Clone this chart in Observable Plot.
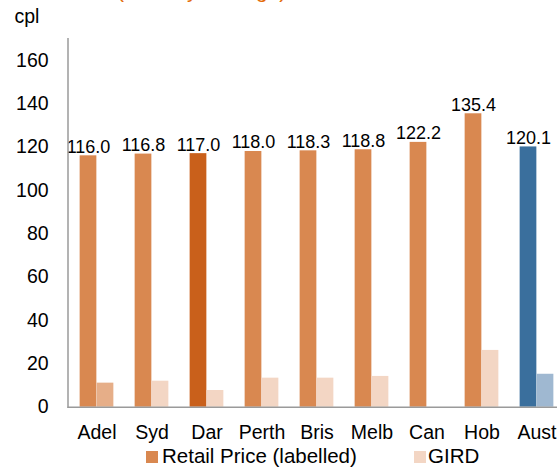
<!DOCTYPE html>
<html>
<head>
<meta charset="utf-8">
<script src="https://cdn.jsdelivr.net/npm/d3@7"></script>
<script src="https://cdn.jsdelivr.net/npm/@observablehq/plot@0.6"></script>
<style>
  html, body { margin: 0; padding: 0; background: #fff; overflow: hidden; }
  #wrap { position: relative; width: 557px; height: 467px; font-family: "Liberation Sans", Arial, sans-serif; }
  #title { position: absolute; left: 117px; top: -20px; font-size: 21px; line-height: 21px; color: #E46C0A; white-space: nowrap; }
  #chart { position: absolute; left: 0; top: 0; }
  .lg { position: absolute; top: 443.5px; height: 24px; line-height: 24px; font-size: 20.5px; color: #000; white-space: nowrap; }
  .sw { position: absolute; width: 12px; height: 12px; top: 450.5px; }
</style>
</head>
<body>
<div id="wrap">
  <div id="title">(monthly average)</div>
  <div id="chart"></div>
  <div class="sw" style="left:146px;background:#D98850"></div>
  <div class="lg" style="left:162px">Retail Price (labelled)</div>
  <div class="sw" style="left:414px;background:#F3D6C4"></div>
  <div class="lg" style="left:428px">GIRD</div>
</div>
<script>
const categories = ["Adel", "Syd", "Dar", "Perth", "Bris", "Melb", "Can", "Hob", "Aust"];
const retailPrice = [116.0, 116.8, 117.0, 118.0, 118.3, 118.8, 122.2, 135.4, 120.1];
const gird = [11.1, 12.0, 7.7, 13.4, 13.4, 14.2, null, 26.2, 15.2];
const yTicks = [0, 20, 40, 60, 80, 100, 120, 140, 160];

const rows = categories.map((c, i) => ({cat: c, retail: retailPrice[i], gird: gird[i]}));
const girdRows = rows.filter(d => d.gird != null);

const retailFill = d => d.cat === "Dar" ? "#C9601B" : d.cat === "Aust" ? "#3A6F9D" : "#D98850";
const girdFill = d => d.cat === "Adel" ? "#E6AE88" : d.cat === "Aust" ? "#9FB8D1" : "#F3D6C4";

const step = (565 - 67.5) / categories.length;
const half = step / 2;
const bw = 17;

const chart = Plot.plot({
  width: 557,
  height: 445,
  marginTop: 38.3,
  marginBottom: 38.3,
  marginLeft: 67.5,
  marginRight: 0,
  style: {fontFamily: "Liberation Sans, Arial, sans-serif", background: "transparent", overflow: "hidden"},
  x: {domain: categories, range: [67.5, 565], padding: 0},
  y: {domain: [0, 170], range: [406.7, 38.3]},
  marks: [
    Plot.barY(rows, {x: "cat", y: "retail", fill: retailFill, insetLeft: half - bw, insetRight: half}),
    Plot.barY(girdRows, {x: "cat", y: "gird", fill: girdFill, insetLeft: half, insetRight: half - bw}),
    Plot.text(rows, {x: "cat", y: "retail", text: d => d3.format(".1f")(d.retail), dx: -bw / 2, dy: -3, lineAnchor: "bottom", fontSize: 18, fill: "#000"}),
    Plot.frame({anchor: "left", stroke: "#9a9a9a", strokeWidth: 1.5}),
    Plot.ruleY([0], {stroke: "#9a9a9a", strokeWidth: 1.5}),
    Plot.axisY({ticks: yTicks, tickSize: 0, tickPadding: 19.4, fontSize: 19.5, label: null, tickFormat: d => d, fill: "#000"}),
    Plot.axisX({tickSize: 0, tickPadding: 18, fontSize: 19.5, label: null, fill: "#000"}),
    Plot.text(["cpl"], {frameAnchor: "top-left", dx: -53.5, dy: -16, lineAnchor: "bottom", textAnchor: "start", fontSize: 19.5, fill: "#000"})
  ]
});
document.getElementById("chart").appendChild(chart);
</script>
</body>
</html>
